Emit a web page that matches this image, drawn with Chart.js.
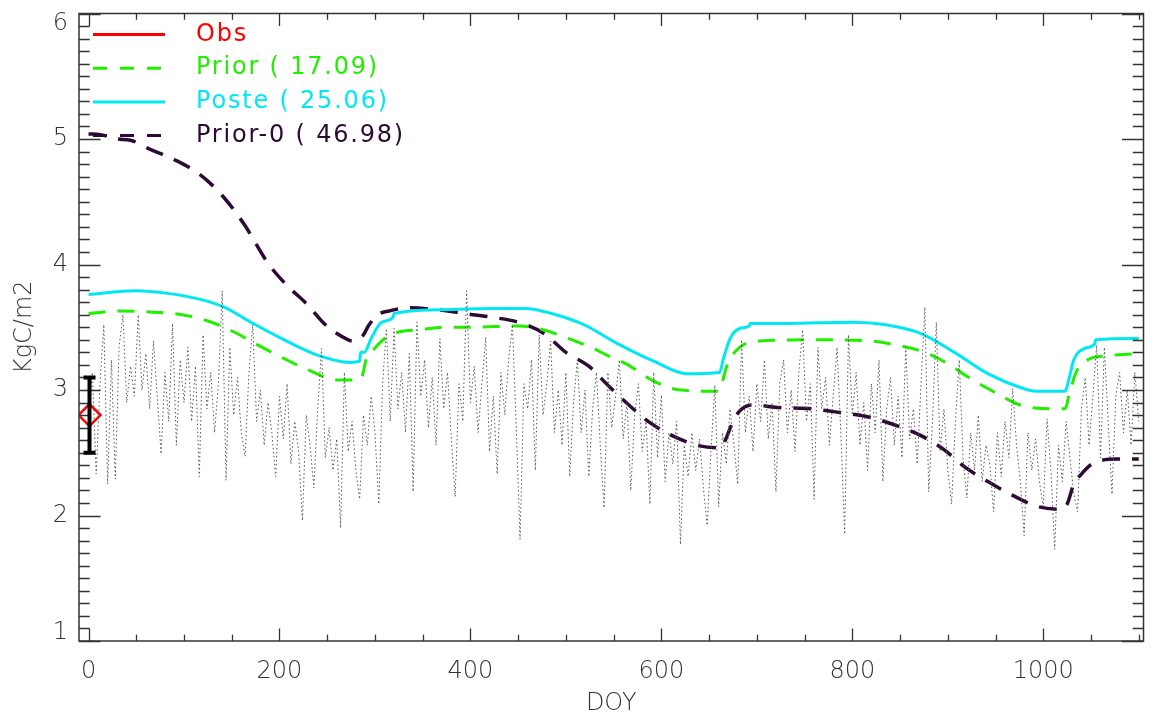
<!DOCTYPE html>
<html>
<head>
<meta charset="utf-8">
<script src="https://cdn.jsdelivr.net/npm/chart.js@4.4.1/dist/chart.umd.min.js"></script>
<style>
  html, body { margin: 0; padding: 0; background: #fff; }
  #chart-wrap { width: 1157px; height: 722px; }
</style>
</head>
<body>
<div id="chart-wrap"><canvas id="carbon-chart" width="1157" height="722"></canvas></div>
<script>
// gray daily series, sampled every 4 days from DOY 0
const grayStep = 4;
const grayValues = [
  2.80, 3.14, 2.33, 3.05, 3.52, 2.25, 3.24, 2.29, 3.34, 3.60, 2.90, 3.19, 2.95, 3.60, 3.00, 3.29, 2.85, 3.39, 2.95, 2.49, 3.14, 2.75, 3.53, 2.56, 3.24,
  2.90, 3.34, 2.75, 3.19, 2.31, 3.44, 2.85, 3.14, 2.66, 3.05, 3.79, 2.28, 3.34, 2.80, 3.10, 2.66, 2.47, 3.14, 3.52, 2.75, 3.00, 2.56, 2.90, 2.66, 2.31,
  2.95, 2.61, 3.05, 2.41, 2.75, 2.51, 1.96, 2.80, 2.56, 2.22, 2.85, 3.33, 2.46, 2.70, 2.36, 2.61, 1.90, 3.14, 2.51, 2.75, 2.36, 2.13, 2.80, 2.56, 2.95,
  2.66, 2.09, 3.05, 3.49, 2.75, 3.49, 2.85, 3.14, 2.66, 3.29, 2.19, 3.54, 2.95, 3.24, 2.70, 3.10, 2.56, 3.41, 2.85, 3.14, 2.61, 2.15, 3.05, 2.75, 3.79,
  2.90, 3.19, 2.66, 3.05, 3.42, 2.51, 2.95, 2.33, 3.14, 2.80, 3.24, 3.52, 2.70, 1.81, 3.05, 2.85, 3.24, 2.36, 3.44, 2.80, 3.05, 3.39, 2.66, 3.00, 2.56,
  3.14, 2.31, 2.90, 3.24, 2.66, 3.00, 2.31, 2.85, 3.14, 2.56, 2.06, 3.14, 2.70, 2.95, 3.24, 2.61, 2.90, 2.20, 2.80, 3.05, 2.51, 2.75, 2.09, 3.14, 2.46,
  2.96, 2.27, 2.66, 2.41, 2.75, 1.77, 2.56, 2.31, 2.66, 2.36, 2.61, 2.22, 1.92, 2.51, 3.04, 2.07, 2.66, 2.41, 2.85, 2.56, 2.25, 3.40, 2.66, 2.95, 2.51,
  3.05, 2.75, 3.24, 2.61, 2.90, 2.19, 3.05, 3.24, 2.66, 3.00, 2.51, 3.14, 3.48, 2.75, 3.05, 2.13, 3.34, 2.85, 3.10, 2.56, 2.95, 3.34, 2.66, 1.85, 3.44,
  2.80, 3.14, 2.56, 2.90, 2.36, 3.05, 2.66, 3.24, 2.27, 2.85, 3.10, 2.56, 2.95, 2.46, 3.34, 2.61, 2.85, 2.41, 3.05, 3.66, 2.19, 2.75, 3.54, 2.51, 2.85,
  2.36, 2.09, 2.75, 3.24, 2.46, 2.14, 2.66, 2.36, 2.80, 2.27, 2.56, 2.41, 2.03, 2.66, 2.31, 2.75, 2.46, 3.01, 2.56, 2.27, 1.84, 2.66, 2.36, 2.61, 2.27,
  2.07, 2.77, 2.36, 1.73, 2.56, 2.27, 2.75, 2.46, 2.17, 2.03, 2.85, 3.10, 2.56, 2.95, 3.36, 2.46, 3.34, 2.75, 2.17, 2.95, 3.14, 2.66, 3.00, 2.56, 3.14, 2.75
];

// Prior (green dashed)
const priorDoy = [0, 35, 66, 98, 125, 153, 177, 205, 233, 260, 283, 287, 291, 296, 311, 324, 347, 373, 400, 451,
  471, 503, 526, 545, 565, 592, 620, 660, 664, 669, 682, 703, 765, 820, 838, 872, 900, 924, 952, 976,
  1011, 1023, 1027, 1035, 1049, 1063, 1100];
const priorValues = [3.61, 3.63, 3.62, 3.60, 3.55, 3.46, 3.36, 3.25, 3.15, 3.08, 3.08, 3.12, 3.25, 3.30, 3.415, 3.46, 3.48, 3.50, 3.50, 3.51,
  3.49, 3.41, 3.34, 3.27, 3.20, 3.07, 3.00, 2.99, 3.07, 3.20, 3.34, 3.39, 3.40, 3.39, 3.37, 3.31, 3.21, 3.09, 2.97, 2.88,
  2.85, 2.85, 2.96, 3.15, 3.25, 3.27, 3.29];

// Poste (cyan solid)
const posteDoy = [0, 49, 83, 118, 142, 170, 205, 239, 274, 284, 285, 289, 296, 307, 319, 320, 373, 420, 457, 485,
  519, 554, 592, 627, 661, 665, 672, 682, 692, 693, 731, 800, 835, 872, 907, 942, 976, 993, 1023, 1027,
  1032, 1043, 1054, 1055, 1100];
const posteValues = [3.76, 3.79, 3.77, 3.72, 3.66, 3.54, 3.40, 3.28, 3.22, 3.23, 3.30, 3.30, 3.41, 3.54, 3.58, 3.61, 3.64, 3.65, 3.65, 3.61,
  3.52, 3.37, 3.23, 3.13, 3.14, 3.25, 3.41, 3.49, 3.51, 3.53, 3.53, 3.54, 3.52, 3.45, 3.30, 3.13, 3.02, 2.99, 2.99, 3.09,
  3.24, 3.33, 3.37, 3.40, 3.41];

// Prior-0 (dark dashed)
const prior0Doy = [0, 12, 30, 44, 64, 90, 116, 140, 163, 188, 207, 228, 248, 272, 277, 288, 293, 303, 315, 334,
  364, 393, 422, 450, 477, 500, 524, 545, 566, 588, 613, 640, 662, 667, 675, 683, 695, 724, 757, 787,
  817, 845, 871, 896, 918, 942, 968, 995, 1020, 1025, 1032, 1040, 1051, 1078, 1100];
const prior0Values = [5.04, 5.035, 5.00, 4.99, 4.92, 4.835, 4.72, 4.55, 4.32, 4.01, 3.84, 3.69, 3.52, 3.40, 3.39, 3.44, 3.51, 3.60, 3.63, 3.655,
  3.64, 3.61, 3.58, 3.54, 3.45, 3.30, 3.19, 3.03, 2.88, 2.74, 2.63, 2.555, 2.54, 2.60, 2.75, 2.84, 2.88, 2.86, 2.85, 2.82,
  2.785, 2.72, 2.64, 2.525, 2.385, 2.27, 2.16, 2.07, 2.05, 2.09, 2.25, 2.33, 2.41, 2.45, 2.45];

// observation with error bar
const obsDoy = [1];
const obsValues = [2.8];
const obsError = [0.3];

const xTicks = [0, 200, 400, 600, 800, 1000];
const yTicks = [1, 2, 3, 4, 5, 6];
const xMinorStep = 50;
const yMinorStep = 0.1;

const legendLabels = ["Obs", "Prior ( 17.09)", "Poste ( 25.06)", "Prior-0 ( 46.98)"];
const legendColors = ["#ff0000", "#22ee00", "#00e8f2", "#2c0a34"];
const legendDash = [[], [14, 13], [], [14, 13]];

const axisFont = '200 24px "DejaVu Sans", sans-serif';
const axisColor = "#333333";

function toPoints(xs, ys) {
  return ys.map((v, i) => ({ x: xs[i], y: v }));
}

// IDL-like box with inward ticks on all four sides
const boxAxes = {
  id: "boxAxes",
  afterDatasetsDraw(chart) {
    const { ctx, chartArea: a, scales } = chart;
    const xs = scales.x, ys = scales.y;
    ctx.save();
    ctx.strokeStyle = axisColor;
    ctx.lineWidth = 1.5;
    ctx.strokeRect(a.left, a.top, a.right - a.left, a.bottom - a.top);

    ctx.lineWidth = 1.3;
    ctx.beginPath();
    for (let v = xTicks[0]; v <= xs.max; v += xMinorStep) {
      const px = Math.round(xs.getPixelForValue(v)) + 0.5;
      const len = xTicks.includes(v) ? 12.6 : 6.3;
      ctx.moveTo(px, a.bottom); ctx.lineTo(px, a.bottom - len);
      ctx.moveTo(px, a.top); ctx.lineTo(px, a.top + len);
    }
    const nMinor = Math.round((ys.max - ys.min) / yMinorStep);
    for (let i = 0; i <= nMinor; i++) {
      const v = ys.min + i * yMinorStep;
      const py = Math.round(ys.getPixelForValue(v)) + 0.5;
      const len = i % 10 === 0 ? 21.5 : 10.7;
      ctx.moveTo(a.left, py); ctx.lineTo(a.left + len, py);
      ctx.moveTo(a.right, py); ctx.lineTo(a.right - len, py);
    }
    ctx.stroke();

    // tick labels
    ctx.fillStyle = axisColor;
    ctx.font = axisFont;
    ctx.textAlign = "center";
    ctx.textBaseline = "middle";
    xTicks.forEach((v) => {
      ctx.fillText(String(v), xs.getPixelForValue(v), a.bottom + 31);
    });
    ctx.textAlign = "right";
    yTicks.forEach((v) => {
      let py = ys.getPixelForValue(v);
      py = Math.min(Math.max(py, a.top + 10), a.bottom - 8);
      ctx.fillText(String(v), a.left - 11, py);
    });

    // axis titles
    ctx.textAlign = "center";
    ctx.fillText("DOY", (a.left + a.right) / 2, a.bottom + 63);
    ctx.save();
    ctx.translate(25, (a.top + a.bottom) / 2);
    ctx.rotate(-Math.PI / 2);
    ctx.fillText("KgC/m2", 0, 0);
    ctx.restore();
    ctx.restore();
  },
};

// black error bar drawn over the diamond
const obsErrorBar = {
  id: "obsErrorBar",
  afterDatasetsDraw(chart) {
    const { ctx, scales } = chart;
    ctx.save();
    ctx.strokeStyle = "#000000";
    ctx.lineWidth = 4;
    obsDoy.forEach((d, i) => {
      const px = scales.x.getPixelForValue(d);
      const top = scales.y.getPixelForValue(obsValues[i] + obsError[i]);
      const bot = scales.y.getPixelForValue(obsValues[i] - obsError[i]);
      ctx.beginPath();
      ctx.moveTo(px, top); ctx.lineTo(px, bot);
      ctx.moveTo(px - 6, top); ctx.lineTo(px + 6, top);
      ctx.moveTo(px - 6, bot); ctx.lineTo(px + 6, bot);
      ctx.stroke();
    });
    ctx.restore();
  },
};

// legend in the upper-left corner, text coloured like the lines
const cornerLegend = {
  id: "cornerLegend",
  afterDraw(chart) {
    const { ctx, chartArea: a } = chart;
    ctx.save();
    ctx.font = '24px "DejaVu Sans", sans-serif';
    ctx.letterSpacing = "1.8px"; // the original stroke font runs wider
    ctx.textAlign = "left";
    ctx.textBaseline = "middle";
    legendLabels.forEach((label, i) => {
      const y = a.top + 21 + i * 33.7;
      ctx.strokeStyle = legendColors[i];
      ctx.lineWidth = 3;
      ctx.setLineDash(legendDash[i]);
      ctx.beginPath();
      ctx.moveTo(a.left + 14, y);
      ctx.lineTo(a.left + 86, y);
      ctx.stroke();
      ctx.setLineDash([]);
      ctx.fillStyle = legendColors[i];
      ctx.fillText(label, a.left + 117, y);
    });
    ctx.restore();
  },
};

const ctx = document.getElementById("carbon-chart").getContext("2d");
const myChart = new Chart(ctx, {
  type: "line",
  data: {
    datasets: [
      {
        label: "daily",
        data: grayValues.map((v, i) => ({ x: i * grayStep, y: v })),
        borderColor: "#555555",
        borderWidth: 1,
        borderDash: [1.5, 2.5],
        pointRadius: 0,
        tension: 0,
      },
      {
        label: "Obs",
        data: toPoints(obsDoy, obsValues),
        showLine: false,
        pointStyle: "rectRot",
        pointRadius: 11,
        pointBorderWidth: 2.5,
        pointBorderColor: "#ff0000",
        pointBackgroundColor: "rgba(0,0,0,0)",
      },
      {
        label: "Prior",
        data: toPoints(priorDoy, priorValues),
        borderColor: legendColors[1],
        borderWidth: 3,
        borderDash: [17, 12],
        pointRadius: 0,
        cubicInterpolationMode: "monotone",
      },
      {
        label: "Poste",
        data: toPoints(posteDoy, posteValues),
        borderColor: legendColors[2],
        borderWidth: 3,
        pointRadius: 0,
        cubicInterpolationMode: "monotone",
      },
      {
        label: "Prior-0",
        data: toPoints(prior0Doy, prior0Values),
        borderColor: legendColors[3],
        borderWidth: 3.5,
        borderDash: [18, 12],
        pointRadius: 0,
        cubicInterpolationMode: "monotone",
      },
    ],
  },
  options: {
    responsive: false,
    animation: false,
    layout: { padding: { left: 79, right: 5, top: 10, bottom: 81 } },
    scales: {
      x: { type: "linear", min: -10, max: 1105, display: false },
      y: { type: "linear", min: 1, max: 6, display: false },
    },
    plugins: {
      legend: { display: false },
      tooltip: { enabled: false },
    },
  },
  plugins: [boxAxes, obsErrorBar, cornerLegend],
});
</script>
</body>
</html>
